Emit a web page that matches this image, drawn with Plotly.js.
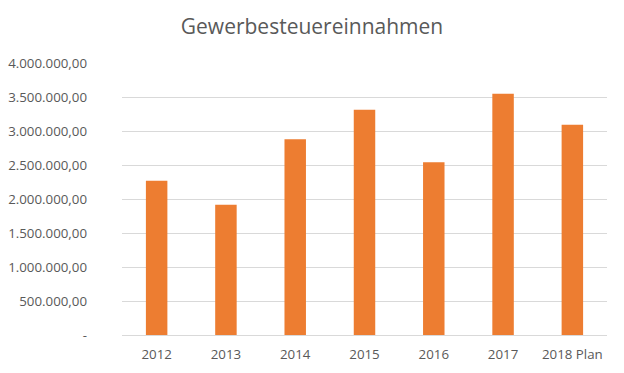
<!DOCTYPE html>
<html>
<head>
<meta charset="utf-8">
<script src="https://cdn.plot.ly/plotly-3.0.1.min.js"></script>
<style>html,body{margin:0;padding:0;background:#fff;}#chart{width:624px;height:373px;}</style>
</head>
<body>
<div id="chart"></div>
<script>
const categories = ["2012", "2013", "2014", "2015", "2016", "2017", "2018 Plan"];
const revenue = [2267000, 1914000, 2880000, 3312000, 2542000, 3548000, 3091000];
const yTickValues = [0, 500000, 1000000, 1500000, 2000000, 2500000, 3000000, 3500000, 4000000];
const yTickLabels = ["-", "500.000,00", "1.000.000,00", "1.500.000,00", "2.000.000,00", "2.500.000,00", "3.000.000,00", "3.500.000,00", "4.000.000,00"];
const chartTitle = "Gewerbesteuereinnahmen";

const trace = {
  type: "bar",
  x: categories,
  y: revenue,
  marker: {color: "#ED7D31"},
  hoverinfo: "skip"
};

const layout = {
  width: 624,
  height: 373,
  margin: {l: 122, r: 17, t: 63, b: 38},
  paper_bgcolor: "#ffffff",
  plot_bgcolor: "#ffffff",
  separators: ",.",
  bargap: 0.69,
  showlegend: false,
  font: {family: "Open Sans, Liberation Sans, sans-serif", color: "#595959", size: 13.3},
  title: {
    text: chartTitle,
    font: {family: "Open Sans, sans-serif", size: 21, color: "#595959"},
    x: 0.5, xref: "container", xanchor: "center",
    y: 1, yref: "container", yanchor: "top", pad: {t: 19}
  },
  xaxis: {
    type: "category",
    showgrid: false,
    showline: false,
    ticks: "",
    ticklabelstandoff: 10,
    tickfont: {size: 13.3, color: "#595959"},
    fixedrange: true
  },
  yaxis: {
    range: [0, 4000000],
    tickmode: "array",
    tickvals: yTickValues,
    ticktext: yTickLabels,
    showgrid: true,
    gridcolor: "#D9D9D9",
    gridwidth: 1,
    zeroline: true,
    zerolinecolor: "#D9D9D9",
    zerolinewidth: 1,
    showline: false,
    ticks: "",
    ticklabelstandoff: 34,
    tickfont: {size: 13.3, color: "#595959"},
    fixedrange: true
  }
};

Plotly.newPlot("chart", [trace], layout, {displayModeBar: false, staticPlot: true});
</script>
</body>
</html>
